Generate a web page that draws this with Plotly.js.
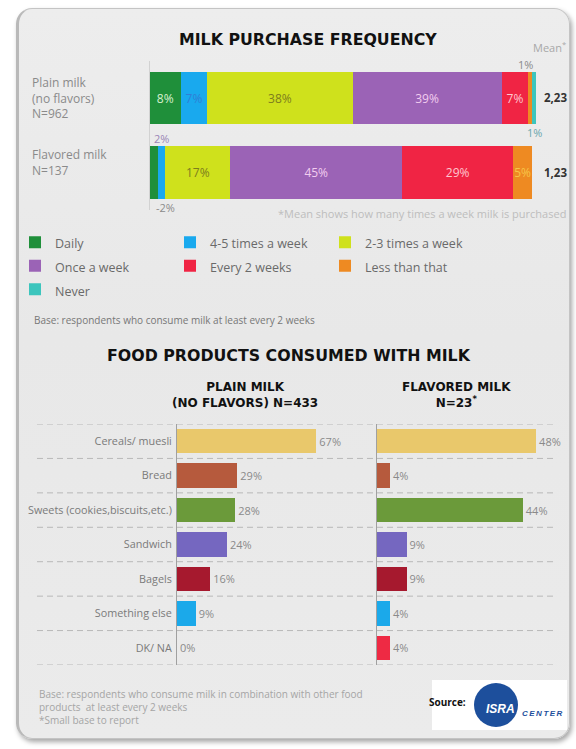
<!DOCTYPE html>
<html><head><meta charset="utf-8">
<script src="https://cdn.plot.ly/plotly-3.0.1.min.js"></script>
<style>
html,body{margin:0;padding:0;background:#fff;}
#wrap{position:relative;width:576px;height:749px;overflow:hidden;background:#fff;}
#card{position:absolute;left:16px;top:8px;width:550px;height:729px;border-radius:16px;
 background:linear-gradient(180deg,#ededed 0%,#e8e8e8 45%,#ebebeb 100%);
 border:1px solid #c4c4c4;border-left:3px solid #b9b9b9;box-shadow:2px 3px 5px rgba(0,0,0,0.35);}
#chart{position:absolute;left:0;top:0;width:576px;height:749px;}
</style></head><body>
<div id="wrap"><div id="card"></div><div id="chart"></div></div>
<script>
const W = 576, H = 749;
const px = v => v / W;
const py = v => 1 - v / H;

// ---- Milk purchase frequency ----
const milkTypes = ['Plain milk', 'Flavored milk'];
const milkLabels = ['Plain milk<br>(no flavors)<br>N=962', 'Flavored milk<br>N=137'];
const freqCats = ['Daily', '4-5 times a week', '2-3 times a week', 'Once a week', 'Every 2 weeks', 'Less than that', 'Never'];
const plainPct = [8, 7, 38, 39, 7, 1, 1];
const flavoredPct = [2, 2, 17, 45, 29, 5, 0];
const meanPerWeek = [2.23, 1.23];
const freqColors = ['#1f8f3a', '#19a9ee', '#cfe11c', '#9b63b6', '#f02444', '#ee8a22', '#3cc5bd'];
const freqTextColors = ['#d8f0cf', '#2f7fd6', '#7d7d1e', '#f2cdef', '#ffc7cf', '#f6c548', '#ffffff'];

// ---- Food products consumed with milk ----
const foods = ['Cereals/ muesli', 'Bread', 'Sweets (cookies,biscuits,etc.)', 'Sandwich', 'Bagels', 'Something else', 'DK/ NA'];
const plainFoodPct = [67, 29, 28, 24, 16, 9, 0];
const flavoredFoodPct = [48, 4, 44, 9, 9, 4, 4];
const foodColors = ['#e9c86b', '#b65a3d', '#6b9a3a', '#7567c0', '#a6192e', '#1ba9ea', '#ee2a44'];

const traces = [];
freqCats.forEach((cat, i) => {
  const vals = [plainPct[i], flavoredPct[i]];
  traces.push({
    type: 'bar', orientation: 'h', name: '<span style="font-size:12.5px">' + cat + '</span>',
    x: vals, y: milkTypes, xaxis: 'x', yaxis: 'y',
    marker: {color: freqColors[i], line: {width: 0}},
    text: vals.map(v => v >= 5 ? v + '%' : ''),
    textposition: 'inside', insidetextanchor: 'middle', constraintext: 'none',
    textfont: {family: 'Open Sans, sans-serif', size: 12, color: freqTextColors[i]},
    hoverinfo: 'skip'
  });
});
traces.push({
  type: 'bar', orientation: 'h', x: plainFoodPct, y: foods, xaxis: 'x2', yaxis: 'y2',
  marker: {color: foodColors, line: {width: 0}}, showlegend: false,
  text: plainFoodPct.map(v => v + '%'), textposition: 'outside', cliponaxis: false, constraintext: 'none',
  textfont: {family: 'Open Sans, sans-serif', size: 11, color: '#8a8a8a'}, hoverinfo: 'skip'
});
traces.push({
  type: 'bar', orientation: 'h', x: flavoredFoodPct, y: foods, xaxis: 'x3', yaxis: 'y3',
  marker: {color: foodColors, line: {width: 0}}, showlegend: false,
  text: flavoredFoodPct.map(v => v + '%'), textposition: 'outside', cliponaxis: false, constraintext: 'none',
  textfont: {family: 'Open Sans, sans-serif', size: 11, color: '#8a8a8a'}, hoverinfo: 'skip'
});

// cumulative helper for small outside labels
const cumBefore = (arr, i) => arr.slice(0, i).reduce((a, b) => a + b, 0);

const titleFont = {family: 'DejaVu Sans, Verdana, sans-serif', size: 15.8, color: '#111'};
const subFont = {family: 'DejaVu Sans, Verdana, sans-serif', size: 12, color: '#111'};
const annotations = [
  {text: '<b>MILK PURCHASE FREQUENCY</b>', x: px(308), y: py(40), font: titleFont},
  {text: 'Mean<sup>*</sup>', x: px(549), y: py(47), font: {size: 11, color: '#a8a8a8'}},
  {text: '*Mean shows how many times a week milk is purchased', x: px(568), xanchor: 'right', y: py(213), font: {size: 11, color: '#bdbdbd'}},
  {text: 'Base: respondents who consume milk at least every 2 weeks', x: px(32), xanchor: 'left', y: py(320), font: {size: 10, color: '#777'}},
  {text: '<b>FOOD PRODUCTS CONSUMED WITH MILK</b>', x: px(289), y: py(355), font: titleFont},
  {text: '<b>PLAIN MILK<br>(NO FLAVORS) N=433</b>', x: px(245), y: py(395), font: subFont},
  {text: '<b>FLAVORED MILK<br>N=23<sup>*</sup></b>', x: px(456), y: py(395), font: subFont},
  {text: 'Base: respondents who consume milk in combination with other food<br>products  at least every 2 weeks<br>*Small base to report',
   x: px(37), xanchor: 'left', y: py(707), align: 'left', font: {size: 10, color: '#a5a5a5'}},
  {text: '<b>Source:</b>', x: px(447), y: py(702), font: {size: 10, color: '#111'}},
  {text: '<b><i>ISRA</i></b>', x: px(500), y: py(709), font: {family: 'Liberation Sans, Arial', size: 12, color: '#ffffff'}},
  {text: '<b><i><span style="letter-spacing:1.5px">CENTER</span></i></b>', x: px(520), xanchor: 'left', y: py(713), font: {family: 'Liberation Sans, Arial', size: 8, color: '#1d4f9c'}}
].map(a => Object.assign({xref: 'paper', yref: 'paper', xanchor: 'center', yanchor: 'middle', showarrow: false}, a));

milkTypes.forEach((m, i) => {
  annotations.push({xref: 'paper', yref: 'y', x: px(30), xanchor: 'left', yanchor: 'middle', y: m, yshift: i === 0 ? 0 : 10,
    text: milkLabels[i], align: 'left', showarrow: false, font: {size: 12, color: '#8a8a8a'}});
  annotations.push({xref: 'paper', yref: 'y', x: px(542), xanchor: 'left', yanchor: 'middle', y: m,
    text: '<b>' + meanPerWeek[i].toFixed(2).replace('.', ',') + '</b>', showarrow: false,
    font: {size: 11.5, color: '#333'}});
});
// small segments labelled outside the bars
annotations.push({xref: 'x', yref: 'y', x: cumBefore(plainPct, 5) + plainPct[5] / 2, y: milkTypes[0], yshift: 33, xshift: -5,
  text: plainPct[5] + '%', showarrow: false, font: {size: 11, color: '#8a8a8a'}});
annotations.push({xref: 'x', yref: 'y', x: cumBefore(plainPct, 6) + plainPct[6] / 2, y: milkTypes[0], yshift: -35,
  text: plainPct[6] + '%', showarrow: false, font: {size: 11, color: '#6aa6ad'}});
annotations.push({xref: 'x', yref: 'y', x: cumBefore(flavoredPct, 1) + flavoredPct[1] / 2, y: milkTypes[1], yshift: 34,
  text: flavoredPct[1] + '%', showarrow: false, font: {size: 11, color: '#9a86b6'}});
annotations.push({xref: 'x', yref: 'y', x: cumBefore(flavoredPct, 0) + flavoredPct[0] / 2, xanchor: 'left', y: milkTypes[1], yshift: -35,
  text: '-' + flavoredPct[0] + '%', showarrow: false, font: {size: 11, color: '#8a8a8a'}});

const shapes = [];
for (let k = 0; k <= foods.length; k++) {
  shapes.push({type: 'line', xref: 'paper', yref: 'y2', x0: px(37), x1: px(557), y0: k - 0.5, y1: k - 0.5,
    line: {color: '#b8b8b8', width: 1, dash: '6px,4px'}, layer: 'below'});
}
shapes.push({type: 'rect', xref: 'paper', yref: 'paper', x0: px(432), x1: px(567), y0: py(730), y1: py(680),
  fillcolor: '#ffffff', line: {width: 0}, layer: 'above'});
shapes.push({type: 'circle', xref: 'paper', yref: 'paper', x0: px(474), x1: px(518), y0: py(727), y1: py(683),
  fillcolor: '#1d4f9c', line: {width: 0}, layer: 'above'});

const layout = {
  width: W, height: H, margin: {l: 0, r: 0, t: 0, b: 0},
  paper_bgcolor: 'rgba(0,0,0,0)', plot_bgcolor: 'rgba(0,0,0,0)',
  font: {family: 'Open Sans, sans-serif', color: '#777'},
  barmode: 'stack', bargap: 0.29, showlegend: true,
  xaxis: {domain: [px(150), px(536)], range: [0, 101], visible: false, anchor: 'y'},
  yaxis: {domain: [py(209.75), py(60.75)], range: [1.5, -0.5], anchor: 'x', showticklabels: false, ticks: '',
    showgrid: false, zeroline: false, showline: true, linecolor: '#d2d2d2', linewidth: 1},
  xaxis2: {domain: [px(177), px(376.6)], range: [0, 96], visible: false, anchor: 'y2'},
  yaxis2: {domain: [py(665), py(424)], range: [6.5, -0.5], anchor: 'x2', ticks: '', showgrid: false, zeroline: false,
    showline: true, linecolor: '#a0a0a0', linewidth: 1, ticklabelstandoff: 2,
    tickfont: {family: 'Open Sans, sans-serif', size: 10.8, color: '#7a7a7a'}},
  xaxis3: {domain: [px(376.6), 1], range: [0, 60], visible: false, anchor: 'y3'},
  yaxis3: {domain: [py(665), py(424)], range: [6.5, -0.5], anchor: 'x3', ticks: '', showgrid: false, zeroline: false,
    showline: true, linecolor: '#a0a0a0', linewidth: 1, showticklabels: false},
  legend: {orientation: 'h', x: px(15), xanchor: 'left', y: py(225.5), yanchor: 'top', traceorder: 'normal',
    entrywidth: 110, entrywidthmode: 'pixels', itemwidth: 30, bgcolor: 'rgba(0,0,0,0)',
    font: {family: 'Open Sans, sans-serif', size: 15.8, color: '#6a6a6a'}},
  annotations: annotations, shapes: shapes
};

Plotly.newPlot('chart', traces, layout, {displayModeBar: false, staticPlot: true});
</script></body></html>
